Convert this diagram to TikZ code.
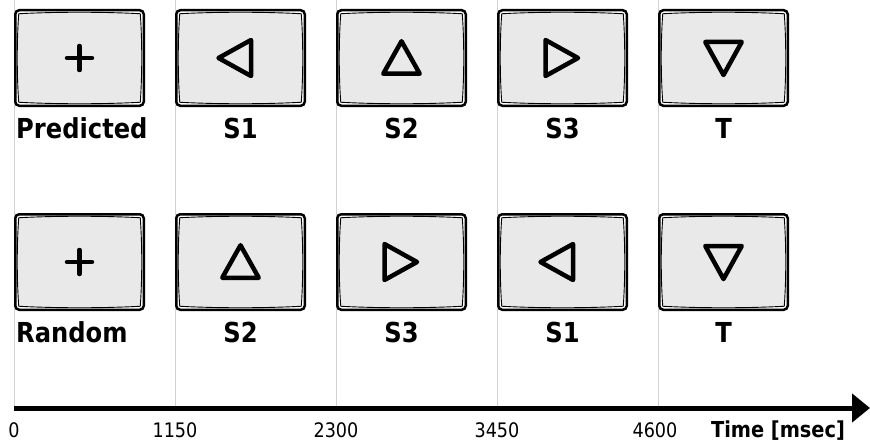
\documentclass[tikz,border=0pt]{standalone}
\usepackage{fontspec}
\setmainfont{DejaVu Sans}
\newfontfamily\labfont[FakeStretch=0.88]{DejaVu Sans}
\usetikzlibrary{arrows.meta}
\definecolor{scrfill}{HTML}{E9E9E9}
\definecolor{gridgray}{HTML}{D2D2D2}
\tikzset{
  monitor/.style={draw=black, line width=2.5pt, rounded corners=4pt, fill=white,
    minimum width=128.5pt, minimum height=95.5pt, inner sep=0pt,
    path picture={
      \coordinate (nw) at (path picture bounding box.north west);
      \coordinate (ne) at (path picture bounding box.north east);
      \coordinate (se) at (path picture bounding box.south east);
      \coordinate (sw) at (path picture bounding box.south west);
      \draw[line width=0.9pt, sharp corners, fill=scrfill]
        ([shift={(3.5pt,-3.5pt)}]nw) .. controls ([shift={(40pt,-1.5pt)}]nw) and ([shift={(-40pt,-1.5pt)}]ne) ..
        ([shift={(-3.5pt,-3.5pt)}]ne) .. controls ([shift={(-1.5pt,-30pt)}]ne) and ([shift={(-1.5pt,30pt)}]se) ..
        ([shift={(-3.5pt,3.5pt)}]se) .. controls ([shift={(-40pt,1.5pt)}]se) and ([shift={(40pt,1.5pt)}]sw) ..
        ([shift={(3.5pt,3.5pt)}]sw) .. controls ([shift={(1.5pt,30pt)}]sw) and ([shift={(1.5pt,-30pt)}]nw) .. cycle;
    }},
  stimline/.style={draw=black, line width=4.5pt, line join=round, line cap=round},
  rowlabel/.style={font=\labfont\bfseries\fontsize{27.5}{32}\selectfont, anchor=base, inner sep=0pt},
  ticklabel/.style={font=\labfont\fontsize{20}{24}\selectfont, anchor=base, inner sep=0pt},
  gridline/.style={draw=gridgray, line width=0.9pt},
  timeaxis/.style={line width=5pt, -{Triangle[length=18pt,width=28pt]}}
}
\newcommand\symplus[1]{%
  \draw[stimline] ([shift={(-12.5pt,0pt)}]#1.center) -- ([shift={(12.5pt,0pt)}]#1.center);
  \draw[stimline] ([shift={(0pt,-12pt)}]#1.center) -- ([shift={(0pt,12pt)}]#1.center);}
\newcommand\symleft[1]{%
  \draw[stimline] ([shift={(-22pt,0pt)}]#1.center) -- ([shift={(10.5pt,18pt)}]#1.center) -- ([shift={(10.5pt,-18pt)}]#1.center) -- cycle;}
\newcommand\symright[1]{%
  \draw[stimline] ([shift={(15.5pt,0pt)}]#1.center) -- ([shift={(-17pt,18pt)}]#1.center) -- ([shift={(-17pt,-18pt)}]#1.center) -- cycle;}
\newcommand\symup[1]{%
  \draw[stimline] ([shift={(0pt,16.75pt)}]#1.center) -- ([shift={(18.25pt,-15.75pt)}]#1.center) -- ([shift={(-18.25pt,-15.75pt)}]#1.center) -- cycle;}
\newcommand\symdown[1]{%
  \draw[stimline] ([shift={(0pt,-17pt)}]#1.center) -- ([shift={(18.25pt,16pt)}]#1.center) -- ([shift={(-18.25pt,16pt)}]#1.center) -- cycle;}
\begin{document}
\begin{tikzpicture}[x=1pt, y=-1pt]
\useasboundingbox (0,0) rectangle (870,444);
% grid lines
\foreach \i in {0,...,4} {
  \coordinate (gt\i) at (14+161*\i, 0);
  \coordinate (gb\i) at (14+161*\i, 406);
  \draw[gridline] (gt\i) -- (gb\i);
}
% monitors
\foreach \i in {0,...,4} {
  \node[monitor] (p\i) at (79.5+161*\i, 58) {};
  \node[monitor] (r\i) at (79.5+161*\i, 262) {};
}
% stimuli row 1
\symplus{p0}
\symleft{p1}
\symup{p2}
\symright{p3}
\symdown{p4}
% stimuli row 2
\symplus{r0}
\symup{r1}
\symright{r2}
\symleft{r3}
\symdown{r4}
% labels row 1
\node[rowlabel, anchor=base west] (lp0) at (16, 138) {Predicted};
\node[rowlabel] (lp1) at (240.5, 138) {S1};
\node[rowlabel] (lp2) at (401.5, 138) {S2};
\node[rowlabel] (lp3) at (562.5, 138) {S3};
\node[rowlabel] (lp4) at (723.5, 138) {T};
% labels row 2
\node[rowlabel, anchor=base west] (lr0) at (16, 342) {Random};
\node[rowlabel] (lr1) at (240.5, 342) {S2};
\node[rowlabel] (lr2) at (401.5, 342) {S3};
\node[rowlabel] (lr3) at (562.5, 342) {S1};
\node[rowlabel] (lr4) at (723.5, 342) {T};
% time axis
\coordinate (ax0) at (14, 408);
\coordinate (ax1) at (870, 408);
\draw[timeaxis] (ax0) -- (ax1);
\node[ticklabel] (t0) at (14, 437) {0};
\node[ticklabel] (t1) at (175, 437) {1150};
\node[ticklabel] (t2) at (336, 437) {2300};
\node[ticklabel] (t3) at (497, 437) {3450};
\node[ticklabel] (t4) at (655, 437) {4600};
\node[rowlabel, font=\labfont\bfseries\fontsize{22}{26}\selectfont] (tl) at (778, 437) {Time [msec]};
\end{tikzpicture}
\end{document}
